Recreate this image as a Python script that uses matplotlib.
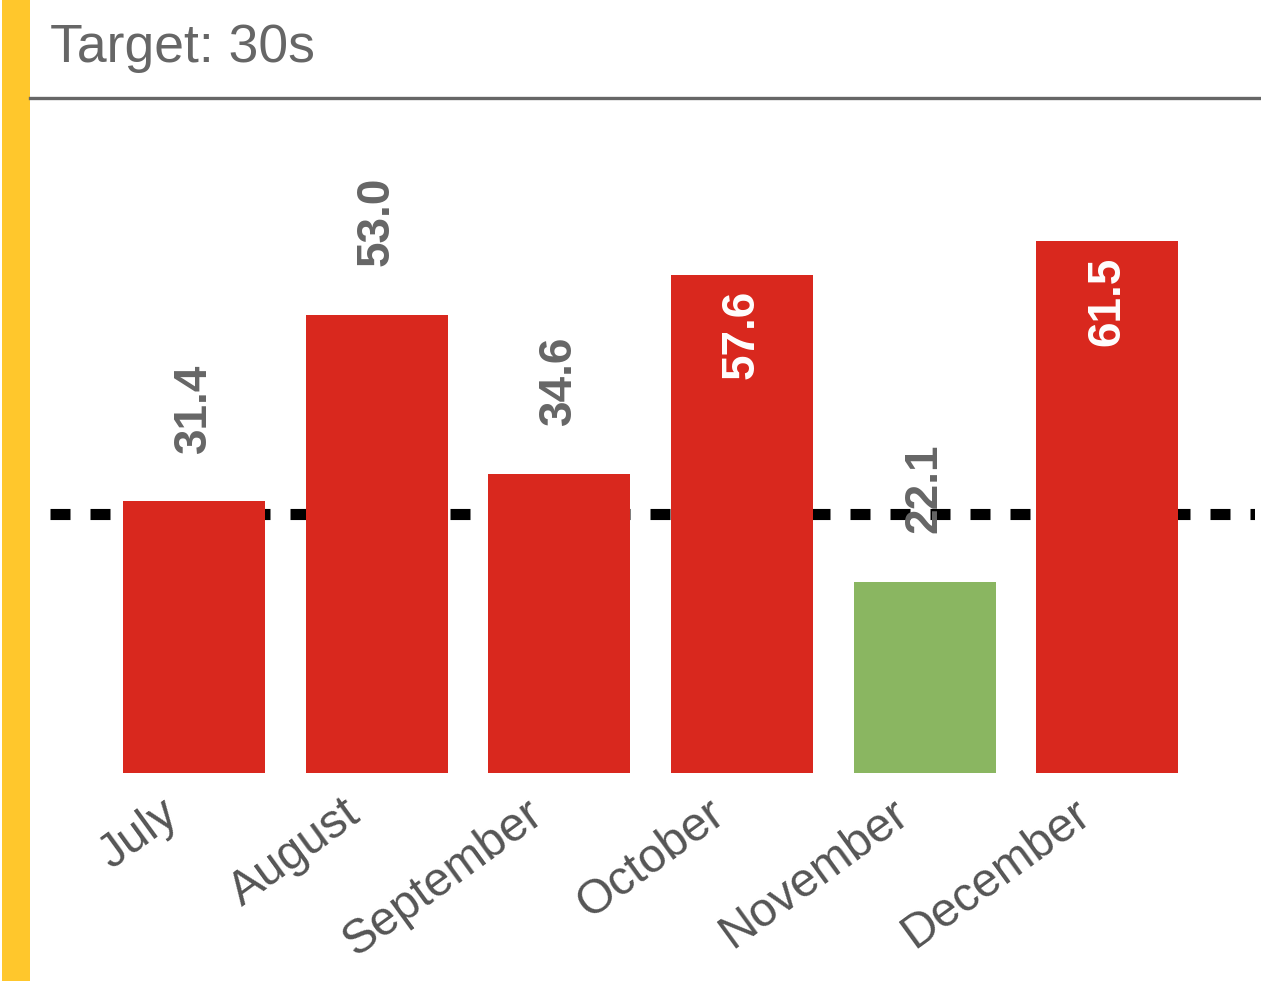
import matplotlib
matplotlib.use("Agg")
import matplotlib.pyplot as plt
from matplotlib.patches import Rectangle
from matplotlib.lines import Line2D
from matplotlib.transforms import ScaledTranslation

months = ["July", "August", "September", "October", "November", "December"]
avg_seconds = [31.4, 53.0, 34.6, 57.6, 22.1, 61.5]
target = 30

RED = "#D9281E"
GREEN = "#8AB661"
YELLOW = "#FFC72C"
GRAY = "#666666"

plt.rcParams["font.family"] = ["Liberation Sans", "DejaVu Sans"]
plt.rcParams["lines.scale_dashes"] = False

W, H = 1261, 981
fig = plt.figure(figsize=(W / 100, H / 100), dpi=100)

# yellow stripe on the left + header
fig.patches.append(Rectangle((2 / W, 0), 28 / W, 1, transform=fig.transFigure,
                             facecolor=YELLOW, edgecolor="none"))
fig.lines.append(Line2D([30 / W, 1], [1 - 98 / H] * 2, transform=fig.transFigure,
                        color=GRAY, lw=2.4))
fig.text(50 / W, 1 - 48 / H, "Target: 30s", fontsize=38.5, color=GRAY,
         va="center", ha="left")

# axes in pixel terms: left 50, right 1255, bottom 773, top 100
ax = fig.add_axes([50 / W, (H - 773) / H, 1205 / W, 673 / H])
ax.set_xlim(-0.79, 5.81)
ax.set_ylim(0, 673 / 8.65)

colors = [GREEN if v <= target else RED for v in avg_seconds]
x = range(len(months))
ax.bar(x, avg_seconds, width=0.778, color=colors, zorder=2)
ax.axhline(target, color="black", lw=8, dashes=(14.4, 14.4), zorder=1)

for i, v in enumerate(avg_seconds):
    if v > 55:
        ax.annotate(f"{v:.1f}", (i, v), xytext=(0, -11), textcoords="offset points",
                    rotation=90, ha="center", va="top", fontsize=33,
                    fontweight="bold", color="white", zorder=3)
    else:
        ax.annotate(f"{v:.1f}", (i, v), xytext=(0, 35), textcoords="offset points",
                    rotation=90, ha="center", va="bottom", fontsize=33,
                    fontweight="bold", color=GRAY, zorder=3)

ax.set_xticks(list(x))
ax.set_xticklabels(months, rotation=36, ha="right", rotation_mode="anchor",
                   fontsize=34.5, color="#555555")
ax.tick_params(axis="x", length=0, pad=13)
shift = ScaledTranslation(-25 / 72, 0, fig.dpi_scale_trans)
for lbl in ax.get_xticklabels():
    lbl.set_transform(lbl.get_transform() + shift)
ax.set_yticks([])
for s in ax.spines.values():
    s.set_visible(False)

fig.savefig("out.png", dpi=100)
